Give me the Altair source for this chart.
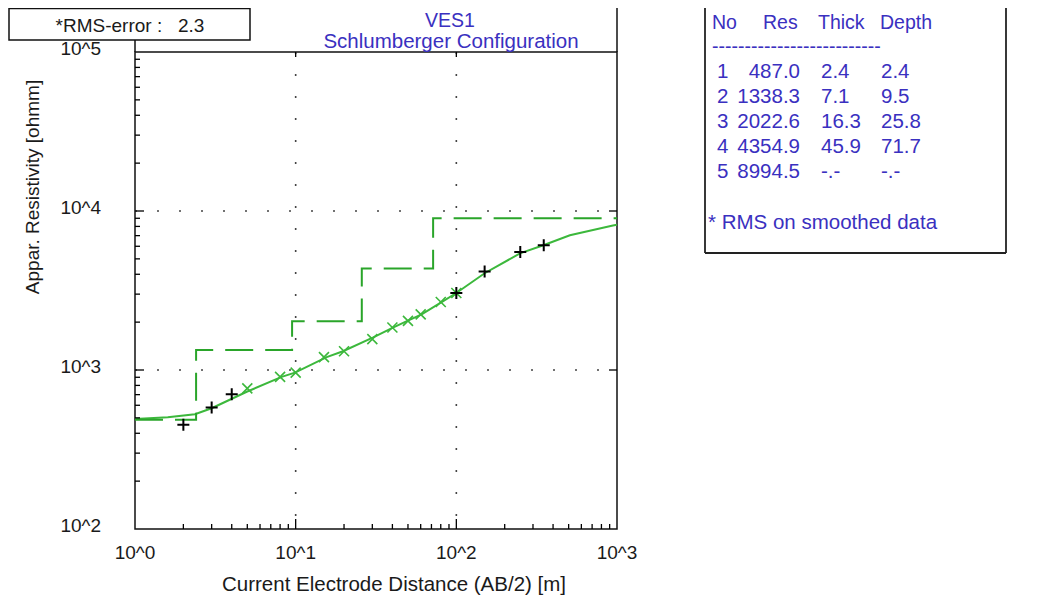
import altair as alt
import pandas as pd

# ---------------- data ----------------
# model response curve (AB/2 [m], apparent resistivity [ohmm])
curve_ab2 = [1, 1.6, 2.36, 3.0, 4.07, 4.96, 8.18, 9.9, 15.6, 19.7, 30.4, 40.3,
             50, 60.8, 81, 100, 150, 249, 348, 509, 943, 1000]
curve_rho = [492, 505, 527, 575, 664, 730, 905, 962, 1205, 1312, 1603, 1849,
             2045, 2240, 2675, 3050, 4060, 5410, 6085, 7030, 8110, 8200]

# field data (black +)
field_ab2 = [2, 3, 4, 100, 150, 250, 350]
field_rho = [453, 581, 703, 3050, 4160, 5530, 6085]

# smoothed data (green x)
smooth_ab2 = [5, 8, 10, 15, 20, 30, 40, 50, 60, 80, 100]
smooth_rho = [766, 905, 962, 1205, 1312, 1563, 1849, 2037, 2240, 2675, 3050]

# layered model
layer_no = ["1", "2", "3", "4", "5"]
layer_res = [487.0, 1338.3, 2022.6, 4354.9, 8994.5]
layer_thick = ["2.4", "7.1", "16.3", "45.9", "-.-"]
layer_depth_txt = ["2.4", "9.5", "25.8", "71.7", "-.-"]
layer_depth = [2.4, 9.5, 25.8, 71.7]

# axis ticks / labels
x_tick_vals = [1, 10, 100, 1000]
x_tick_labels = ["10^0", "10^1", "10^2", "10^3"]
y_tick_vals = [100, 1000, 10000, 100000]
y_tick_labels = ["10^2", "10^3", "10^4", "10^5"]
x_grid_vals = [10, 100]
y_grid_vals = [1000, 10000]
minor_mult = [2, 3, 4, 5, 6, 7, 8, 9]

# ---------------- tables built from the arrays ----------------
curve_df = pd.DataFrame({"x": curve_ab2, "y": curve_rho, "o": range(len(curve_ab2))})
field_df = pd.DataFrame({"x": field_ab2, "y": field_rho})
smooth_df = pd.DataFrame({"x": smooth_ab2, "y": smooth_rho})

step_x, step_y = [1], [layer_res[0]]
for i, d in enumerate(layer_depth):
    step_x += [d, d]
    step_y += [layer_res[i], layer_res[i + 1]]
step_x.append(1000)
step_y.append(layer_res[-1])
step_df = pd.DataFrame({"x": step_x, "y": step_y, "o": range(len(step_x))})

x_minor = pd.DataFrame({"v": [m * d for d in [1, 10, 100] for m in minor_mult]})
x_major = pd.DataFrame({"v": x_grid_vals})
y_minor = pd.DataFrame({"v": [m * d for d in [100, 1000, 10000] for m in minor_mult]})
y_major = pd.DataFrame({"v": y_grid_vals})
x_lab_df = pd.DataFrame({"v": x_tick_vals, "t": x_tick_labels})
y_lab_df = pd.DataFrame({"v": y_tick_vals, "t": y_tick_labels})
one = pd.DataFrame({"a": [0]})

FONT = "Liberation Sans"
BLUE = "#3a30c0"
GREEN_D = "#2aa52a"
GREEN_S = "#3cb83c"
INK = "#1a1a1a"
NB = "\u00a0"

xs = alt.Scale(type="log", domain=[1, 1000], nice=False)
ys = alt.Scale(type="log", domain=[100, 100000], nice=False)

W, H = 482, 477

def X(f):
    return alt.X(f, scale=xs, axis=None)

def Y(f):
    return alt.Y(f, scale=ys, axis=None)

# dotted grid at the decades
grid_style = dict(color="#444", strokeWidth=1.6, strokeDash=[2, 20])
grid_v = alt.Chart(x_major).mark_rule(**grid_style).encode(
    x=X("v:Q"), y=alt.value(0), y2=alt.value(H))
grid_h = alt.Chart(y_major).mark_rule(**grid_style).encode(
    y=Y("v:Q"), x=alt.value(0), x2=alt.value(W))

curve = alt.Chart(curve_df).mark_line(color=GREEN_S, strokeWidth=2).encode(
    x=X("x:Q"), y=Y("y:Q"), order="o:Q")

step = alt.Chart(step_df).mark_line(color=GREEN_D, strokeWidth=2, strokeDash=[28, 12]).encode(
    x=X("x:Q"), y=Y("y:Q"), order="o:Q")

plus = alt.Chart(field_df).mark_point(
    shape="M-1,0L1,0M0,-1L0,1", filled=False, color="black", strokeWidth=2,
    size=144, opacity=1).encode(x=X("x:Q"), y=Y("y:Q"))

cross = alt.Chart(smooth_df).mark_point(
    shape="M-1,-1L1,1M-1,1L1,-1", filled=False, color=GREEN_S, strokeWidth=1.6,
    size=100, opacity=1).encode(x=X("x:Q"), y=Y("y:Q"))

# inward ticks
tick_style = dict(color="black", strokeWidth=1.3)
bx_minor = alt.Chart(x_minor).mark_rule(**tick_style).encode(
    x=X("v:Q"), y=alt.value(H), y2=alt.value(H - 5))
bx_major = alt.Chart(x_major).mark_rule(**tick_style).encode(
    x=X("v:Q"), y=alt.value(H), y2=alt.value(H - 10))
tx_major = alt.Chart(x_major).mark_rule(**tick_style).encode(
    x=X("v:Q"), y=alt.value(0), y2=alt.value(5))
ly_minor = alt.Chart(y_minor).mark_rule(**tick_style).encode(
    y=Y("v:Q"), x=alt.value(0), x2=alt.value(5))
ly_major = alt.Chart(y_major).mark_rule(**tick_style).encode(
    y=Y("v:Q"), x=alt.value(0), x2=alt.value(9))
ry_major = alt.Chart(y_major).mark_rule(**tick_style).encode(
    y=Y("v:Q"), x=alt.value(W), x2=alt.value(W - 8))

# tick labels and axis titles
lab_style = dict(font=FONT, fontSize=19, color=INK)
x_labels = alt.Chart(x_lab_df).mark_text(align="center", baseline="middle", **lab_style).encode(
    x=X("v:Q"), y=alt.value(501), text="t:N")
y_labels = alt.Chart(y_lab_df).mark_text(align="right", baseline="middle", dy=-3, **lab_style).encode(
    y=Y("v:Q"), x=alt.value(-34), text="t:N")
ttl_style = dict(font=FONT, fontSize=20.5, color=INK)
x_title = alt.Chart(one).mark_text(
    text="Current Electrode Distance (AB/2) [m]", align="center", baseline="middle",
    **ttl_style).encode(x=alt.value(259), y=alt.value(533))
y_title = alt.Chart(one).mark_text(
    text="Appar. Resistivity [ohmm]", align="center", baseline="middle", angle=270,
    **lab_style).encode(x=alt.value(-102), y=alt.value(135))

frame_style = dict(color="#111", strokeWidth=1.5)
right_ext = alt.Chart(one).mark_rule(**frame_style).encode(
    x=alt.value(W), y=alt.value(-44), y2=alt.value(0))
left_ext = alt.Chart(one).mark_rule(**frame_style).encode(
    x=alt.value(0), y=alt.value(-12), y2=alt.value(0))

rms_box = alt.Chart(one).mark_rect(fill="white", stroke="#111", strokeWidth=1.5).encode(
    x=alt.value(-126), x2=alt.value(115), y=alt.value(-43.5), y2=alt.value(-12))
rms_txt = alt.Chart(one).mark_text(
    text="*RMS-error :" + NB * 3 + "2.3", font=FONT, fontSize=19, color=INK,
    align="center", baseline="middle").encode(x=alt.value(-5), y=alt.value(-26))

title1 = alt.Chart(one).mark_text(
    text="VES1", font=FONT, fontSize=19.5, color=BLUE,
    align="center", baseline="middle").encode(x=alt.value(315), y=alt.value(-31))
title2 = alt.Chart(one).mark_text(
    text="Schlumberger Configuration", font=FONT, fontSize=20.5, color=BLUE,
    align="center", baseline="middle").encode(x=alt.value(316), y=alt.value(-10))

# right-hand table
LH = 25
tbl = dict(font=FONT, fontSize=20.5, color=BLUE, baseline="middle", lineHeight=LH)
hdr = dict(font=FONT, fontSize=19.5, color=BLUE, baseline="middle")
hdr_no = alt.Chart(one).mark_text(text="No", align="left", **hdr).encode(
    x=alt.value(577), y=alt.value(-29))
hdr_res = alt.Chart(one).mark_text(text="Res", align="left", **hdr).encode(
    x=alt.value(628), y=alt.value(-29))
hdr_thick = alt.Chart(one).mark_text(text="Thick", align="left", **hdr).encode(
    x=alt.value(683), y=alt.value(-29))
hdr_depth = alt.Chart(one).mark_text(text="Depth", align="left", **hdr).encode(
    x=alt.value(745), y=alt.value(-29))
dashes = alt.Chart(one).mark_text(text="-" * 26, align="left", **hdr).encode(
    x=alt.value(577), y=alt.value(-5))
col_no = alt.Chart(one).mark_text(text=layer_no, align="left", **tbl).encode(
    x=alt.value(582), y=alt.value(20))
col_res = alt.Chart(one).mark_text(text=[f"{r:.1f}" for r in layer_res], align="right", **tbl).encode(
    x=alt.value(665), y=alt.value(20))
col_thick = alt.Chart(one).mark_text(text=layer_thick, align="left", **tbl).encode(
    x=alt.value(686), y=alt.value(20))
col_depth = alt.Chart(one).mark_text(text=layer_depth_txt, align="left", **tbl).encode(
    x=alt.value(746), y=alt.value(20))
note = alt.Chart(one).mark_text(text="* RMS on smoothed data", align="left", **tbl).encode(
    x=alt.value(573), y=alt.value(171))

box_style = dict(color="#222", strokeWidth=1.8)
tb_left = alt.Chart(one).mark_rule(**box_style).encode(
    x=alt.value(570), y=alt.value(-44), y2=alt.value(201))
tb_right = alt.Chart(one).mark_rule(**box_style).encode(
    x=alt.value(871), y=alt.value(-44), y2=alt.value(201))
tb_bottom = alt.Chart(one).mark_rule(**box_style).encode(
    x=alt.value(570), x2=alt.value(871), y=alt.value(201))

chart = alt.layer(
    grid_v, grid_h, curve, step, cross, plus,
    bx_minor, bx_major, tx_major, ly_minor, ly_major, ry_major,
    x_labels, y_labels, x_title, y_title,
    right_ext, left_ext, rms_box, rms_txt, title1, title2,
    hdr_no, hdr_res, hdr_thick, hdr_depth, dashes,
    col_no, col_res, col_thick, col_depth, note,
    tb_left, tb_right, tb_bottom,
).properties(
    width=W, height=H,
    autosize=alt.AutoSizeParams(type="none"),
    padding={"left": 127, "top": 44, "right": 426, "bottom": 66},
    background="white",
).configure_view(stroke="#111", strokeWidth=1.5)

chart.save("out.html", embed_options={"renderer": "svg", "actions": False})
